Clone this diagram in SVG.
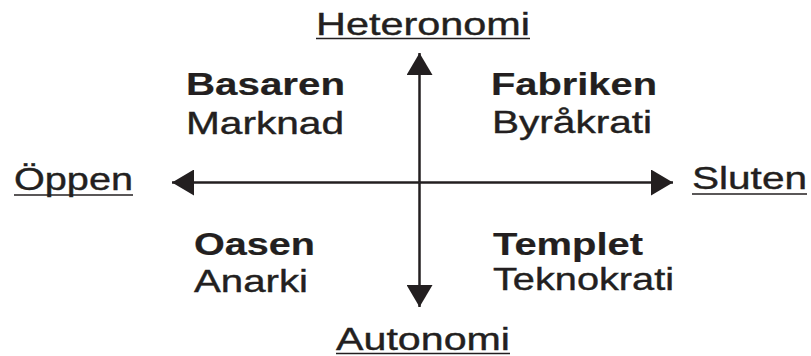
<svg xmlns="http://www.w3.org/2000/svg" width="811" height="356" viewBox="0 0 811 356">
  <style>
    text { font-family: "Liberation Sans", Arial, sans-serif; font-size: 32px; fill: #231f20; stroke: #231f20; stroke-width: 0.4; }
    .b { font-weight: bold; stroke-width: 0.2; }
    .axis { stroke: #231f20; stroke-width: 2.5; fill: none; }
    .ul { stroke: #231f20; stroke-width: 1.6; }
    .head { fill: #231f20; }
  </style>
  <defs>
    <marker id="arrow" viewBox="0 0 22 26" refX="22" refY="13" markerWidth="22" markerHeight="26" markerUnits="userSpaceOnUse" orient="auto">
      <path class="head" d="M0,0 L22,13 L0,26 Z"/>
    </marker>
  </defs>

  <!-- axes -->
  <g id="connectors">
    <line class="axis" x1="419.5" y1="182.5" x2="419.5" y2="53" marker-end="url(#arrow)"/>
    <line class="axis" x1="419.5" y1="182.5" x2="419.5" y2="307" marker-end="url(#arrow)"/>
    <line class="axis" x1="419.5" y1="182.5" x2="172" y2="182.5" marker-end="url(#arrow)"/>
    <line class="axis" x1="419.5" y1="182.5" x2="673" y2="182.5" marker-end="url(#arrow)"/>
  </g>

  <!-- axis labels -->
  <g id="heteronomi">
    <text x="316" y="35" textLength="214" lengthAdjust="spacingAndGlyphs">Heteronomi</text>
    <line class="ul" x1="316" y1="38.5" x2="530" y2="38.5"/>
  </g>
  <g id="autonomi">
    <text x="336" y="350" textLength="174" lengthAdjust="spacingAndGlyphs">Autonomi</text>
    <line class="ul" x1="336" y1="353.5" x2="510" y2="353.5"/>
  </g>
  <g id="oppen">
    <text x="14" y="190" textLength="119" lengthAdjust="spacingAndGlyphs">Öppen</text>
    <line class="ul" x1="14" y1="195" x2="133" y2="195"/>
  </g>
  <g id="sluten">
    <text x="692" y="189" textLength="115" lengthAdjust="spacingAndGlyphs">Sluten</text>
    <line class="ul" x1="692" y1="194" x2="807" y2="194"/>
  </g>

  <!-- quadrants -->
  <g id="basaren">
    <text class="b" x="186" y="95" textLength="159" lengthAdjust="spacingAndGlyphs">Basaren</text>
    <text x="186" y="134" textLength="158" lengthAdjust="spacingAndGlyphs">Marknad</text>
  </g>
  <g id="fabriken">
    <text class="b" x="491" y="95" textLength="166" lengthAdjust="spacingAndGlyphs">Fabriken</text>
    <text x="492" y="133" textLength="160" lengthAdjust="spacingAndGlyphs">Byråkrati</text>
  </g>
  <g id="oasen">
    <text class="b" x="194" y="255" textLength="121" lengthAdjust="spacingAndGlyphs">Oasen</text>
    <text x="194" y="292" textLength="114" lengthAdjust="spacingAndGlyphs">Anarki</text>
  </g>
  <g id="templet">
    <text class="b" x="493" y="255" textLength="150" lengthAdjust="spacingAndGlyphs">Templet</text>
    <text x="493" y="290" textLength="181" lengthAdjust="spacingAndGlyphs">Teknokrati</text>
  </g>
</svg>
